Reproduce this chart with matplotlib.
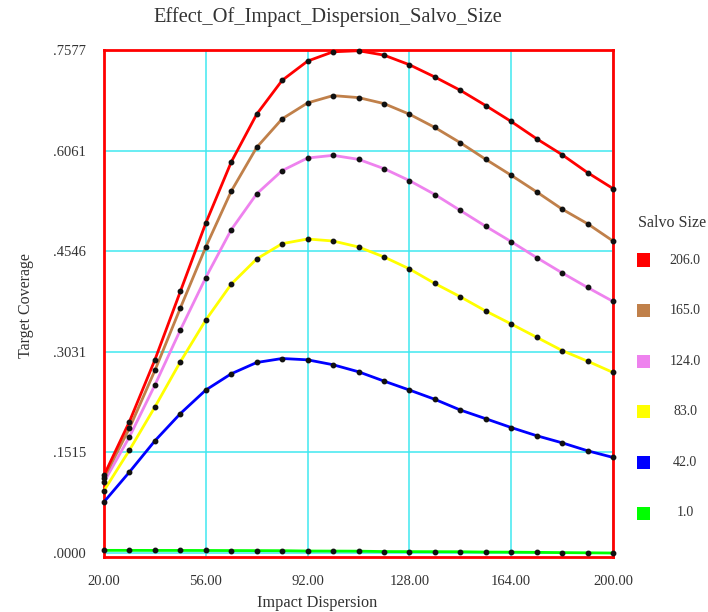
import matplotlib
matplotlib.use("Agg")
import matplotlib.pyplot as plt
from matplotlib.patches import Rectangle

plt.rcParams['font.family'] = ['Liberation Serif', 'DejaVu Serif']

# impact dispersion sample points
dispersion = [20, 29, 38, 47, 56, 65, 74, 83, 92, 101, 110,
              119, 128, 137, 146, 155, 164, 173, 182, 191, 200]

salvo_sizes = ['206.0', '165.0', '124.0', '83.0', '42.0', '1.0']
colors = ['#ff0000', '#c0804a', '#ee82ee', '#ffff00', '#0000ff', '#00ff00']

cov_206 = [0.117, 0.198, 0.291, 0.394, 0.497, 0.589, 0.661, 0.712, 0.741, 0.755, 0.7566,
           0.750, 0.7355, 0.717, 0.697, 0.674, 0.650, 0.624, 0.600, 0.573, 0.549]
cov_165 = [0.113, 0.188, 0.275, 0.369, 0.461, 0.545, 0.611, 0.654, 0.678, 0.689, 0.686,
           0.677, 0.661, 0.641, 0.618, 0.593, 0.569, 0.544, 0.518, 0.496, 0.470]
cov_124 = [0.107, 0.175, 0.253, 0.336, 0.415, 0.487, 0.541, 0.576, 0.595, 0.599, 0.593,
           0.579, 0.561, 0.540, 0.516, 0.492, 0.469, 0.445, 0.422, 0.400, 0.379]
cov_83 = [0.094, 0.155, 0.220, 0.288, 0.351, 0.405, 0.443, 0.466, 0.473, 0.470, 0.461,
          0.446, 0.428, 0.406, 0.386, 0.3645, 0.345, 0.325, 0.305, 0.289, 0.272]
cov_42 = [0.077, 0.122, 0.169, 0.210, 0.2455, 0.270, 0.287, 0.293, 0.291, 0.2836, 0.273,
          0.259, 0.2455, 0.2315, 0.2154, 0.2023, 0.189, 0.1767, 0.166, 0.154, 0.144]
cov_1 = [0.0040, 0.0040, 0.0039, 0.0039, 0.0038, 0.0037, 0.0036, 0.0035, 0.0030, 0.0029, 0.0028,
         0.0022, 0.0021, 0.0020, 0.0019, 0.0014, 0.0013, 0.0010, 0.0006, 0.0003, 0.0000]
series = [cov_206, cov_165, cov_124, cov_83, cov_42, cov_1]

xticks = [20, 56, 92, 128, 164, 200]
yticks = [0.0, 0.1515, 0.3031, 0.4546, 0.6061, 0.7577]
ytick_labels = ['.0000', '.1515', '.3031', '.4546', '.6061', '.7577']

text_col = '#333333'

fig = plt.figure(figsize=(7.08, 6.12), dpi=100)
ax = fig.add_axes([104/708, 1-557/612, (613-104)/708, (557-50)/612])

# draw green first, red last so the top curves sit on top
for vals, c in reversed(list(zip(series, colors))):
    ax.plot(dispersion, vals, color=c, lw=2, zorder=6, clip_on=False)
    ax.plot(dispersion, vals, 'o', color='#111111', ms=3.2, zorder=7, clip_on=False)

ax.set_xlim(20, 200)
ax.set_ylim(-0.006, 0.7577)
ax.set_xticks(xticks)
ax.set_xticklabels(['%.2f' % t for t in xticks])
ax.set_yticks(yticks)
ax.set_yticklabels(ytick_labels)
ax.tick_params(length=0, labelsize=10.5, labelcolor=text_col)
ax.tick_params(axis='y', pad=13)
ax.tick_params(axis='x', pad=13)
ax.grid(True, color='#40e8f0', lw=1.1, zorder=1)
for s in ax.spines.values():
    s.set_color('#ff0000')
    s.set_linewidth(2)
    s.set_zorder(5)

fig.text(328/708, 1-17/612, 'Effect_Of_Impact_Dispersion_Salvo_Size',
         ha='center', va='center', fontsize=14.7, color=text_col)
fig.text(317/708, 1-603/612, 'Impact Dispersion', ha='center', va='center',
         fontsize=11.7, color=text_col)
fig.text(26/708, 1-306/612, 'Target Coverage', ha='center', va='center',
         rotation=90, fontsize=11.5, color=text_col)

# legend on the right
fig.text(672/708, 1-223/612, 'Salvo Size', ha='center', va='center',
         fontsize=11.5, color=text_col)
for i, (lab, c) in enumerate(zip(salvo_sizes, colors)):
    yc = 260 + i * 50.6
    fig.add_artist(Rectangle(((643-6.5)/708, 1-(yc+6.5)/612), 13/708, 13/612,
                             transform=fig.transFigure, color=c, lw=0))
    fig.text(685/708, 1-yc/612, lab, ha='center', va='center',
             fontsize=10, color=text_col)

fig.savefig('out.png', dpi=100, facecolor='white')
